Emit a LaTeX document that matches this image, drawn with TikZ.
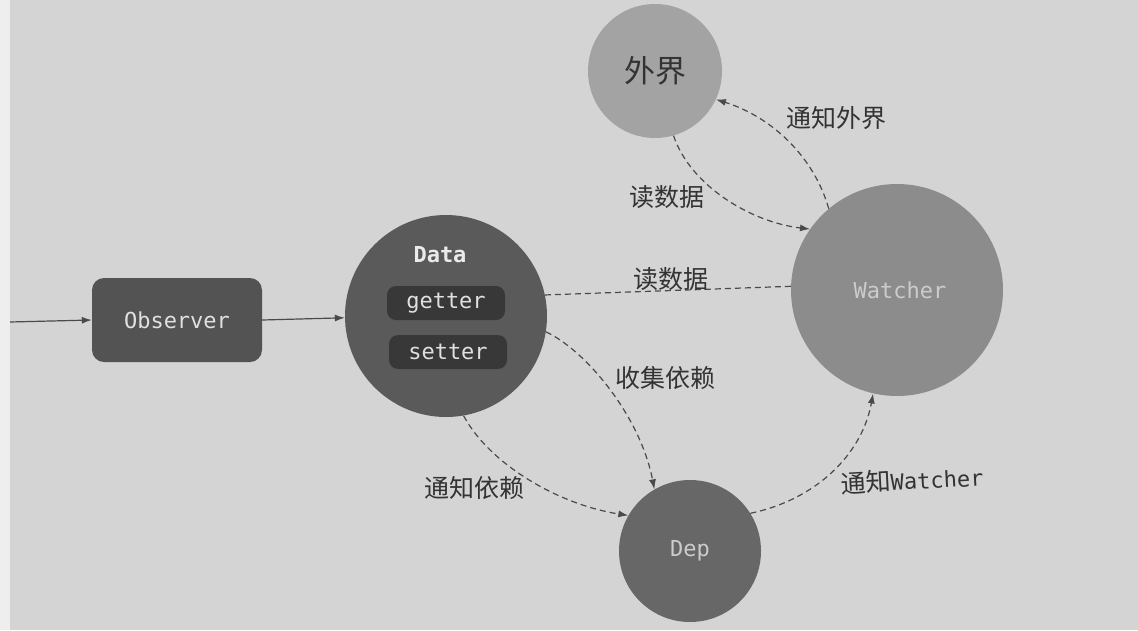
\documentclass[tikz,border=0pt]{standalone}
\usepackage{fontspec}
\setmonofont{DejaVu Sans Mono}
\newfontfamily\cjk{Noto Sans CJK SC}
\usetikzlibrary{arrows.meta}
\definecolor{bgc}{HTML}{D4D4D4}
\definecolor{stripc}{HTML}{EEEEEE}
\definecolor{obsc}{HTML}{535353}
\definecolor{datac}{HTML}{5A5A5A}
\definecolor{pillc}{HTML}{383838}
\definecolor{watchc}{HTML}{8C8C8C}
\definecolor{waic}{HTML}{A3A3A3}
\definecolor{depc}{HTML}{676767}
\definecolor{linec}{HTML}{4A4A4A}
\definecolor{labc}{HTML}{333333}
\tikzset{
  blob/.style={circle, inner sep=0pt, minimum size=#1},
  monotext/.style={font=\ttfamily\fontsize{22}{24}\selectfont, text=white!88!black},
  pill/.style={rounded corners=9pt, fill=pillc, minimum width=118pt, minimum height=34pt, inner sep=0pt, monotext},
  lab/.style={font=\cjk\fontsize{25}{27}\selectfont, text=labc},
  conn/.style={draw=linec, line width=1.2pt},
  dconn/.style={conn, dash pattern=on 6pt off 4pt},
  tip/.style={-{Latex[length=10pt,width=7pt]}},
}
\begin{document}
\begin{tikzpicture}[x=1pt,y=-1pt]
\fill[bgc] (0,0) rectangle (1138,630);
\fill[stripc] (0,0) rectangle (10,630);
\useasboundingbox (0,0) rectangle (1138,630);

% nodes
\node[rounded corners=12pt, fill=obsc, minimum width=170pt, minimum height=84pt, inner sep=0pt, monotext] (obs) at (177,320) {Observer};
\node[blob=202pt, fill=datac] (data) at (446,316) {};
\node[font=\ttfamily\bfseries\fontsize{22}{24}\selectfont, text=white!92!black] (datat) at (440,255) {Data};
\node[pill] (getter) at (446,303) {getter};
\node[pill] (setter) at (448,352) {setter};
\node[blob=212pt, fill=watchc] (watch) at (897,290) {};
\node[monotext, text=white!80!black] (watcht) at (900,290) {Watcher};
\node[blob=134pt, fill=waic, font=\cjk\fontsize{31}{33}\selectfont, text=labc] (wai) at (655,71) {外界};
\node[blob=142pt, fill=depc, monotext, text=white!80!black] (dep) at (690,551) {Dep};

\coordinate (in) at (10,322);

% solid arrows
\draw[conn, tip] (in) -- (obs.west);
\draw[conn, tip] (obs.east) -- (data.181);

% dashed connectors
\draw[dconn] (data.12) -- (watch.178);
\draw[dconn, tip] (wai.-74) .. controls (690,185) and (750,222) .. (watch.145);
\draw[dconn, tip] (watch.130) .. controls (815,160) and (775,118) .. (wai.-25);
\draw[dconn, tip] (data.-9) .. controls (585,350) and (640,415) .. (dep.120);
\draw[dconn, tip] (data.-80) .. controls (490,465) and (560,505) .. (dep.150);
\draw[dconn, tip] (dep.32) .. controls (815,500) and (862,455) .. (watch.-103);

% labels
\node[lab] (l1) at (667,197) {读数据};
\node[lab] (l2) at (671,279) {读数据};
\node[lab] (l3) at (836,118) {通知外界};
\node[lab] (l4) at (665,378) {收集依赖};
\node[lab] (l5) at (474,488) {通知依赖};
\node[lab, rotate=3] (l6) at (912,480) {通知{\ttfamily\fontsize{22}{24}\selectfont Watcher}};
\end{tikzpicture}
\end{document}
